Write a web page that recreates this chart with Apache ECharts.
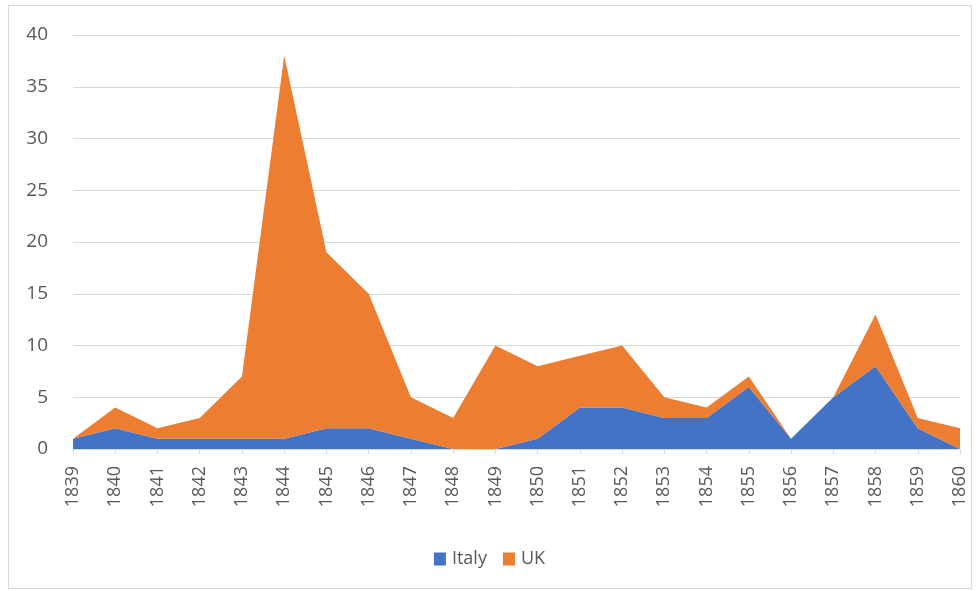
<!DOCTYPE html>
<html><head><meta charset="utf-8">
<script src="https://cdn.jsdelivr.net/npm/echarts@6/dist/echarts.min.js"></script>
<style>html,body{margin:0;padding:0;background:#fff}#c{width:979px;height:591px}
#frame{position:absolute;left:8px;top:5px;width:964px;height:584px;border:1px solid #d9d9d9;box-sizing:border-box;pointer-events:none}</style>
</head><body><div id="c"></div><div id="frame"></div>
<script>
const years = ['1839','1840','1841','1842','1843','1844','1845','1846','1847','1848','1849','1850','1851','1852','1853','1854','1855','1856','1857','1858','1859','1860'];
const italy = [1,2,1,1,1,1,2,2,1,0,0,1,4,4,3,3,6,1,5,8,2,0];
const uk    = [0,2,1,2,6,37,17,13,4,3,10,7,5,6,2,1,1,0,0,5,1,2];
const chart = echarts.init(document.getElementById('c'));
const font = '"Open Sans", "DejaVu Sans", sans-serif';
chart.setOption({
  animation:false,
  textStyle:{fontFamily:font},
  grid:{left:73,right:19,top:35,bottom:142},
  legend:{top:545,left:'center',itemWidth:12,itemHeight:13,itemGap:16,icon:'rect',
    textStyle:{color:'#595959',fontSize:18,fontFamily:font,padding:[0,0,0,1]},data:['Italy','UK']},
  xAxis:{type:'category',data:years,boundaryGap:false,
    axisLine:{lineStyle:{color:'#d9d9d9'}},
    axisTick:{show:true,alignWithLabel:true,length:5,lineStyle:{color:'#d9d9d9'}},
    axisLabel:{rotate:90,color:'#595959',fontSize:18,margin:17,interval:0}},
  yAxis:{type:'value',min:0,max:40,interval:5,
    axisLine:{show:false},axisTick:{show:false},
    axisLabel:{color:'#595959',fontSize:19,margin:25},
    splitLine:{lineStyle:{color:'#d9d9d9'}}},
  series:[
    {name:'Italy',type:'line',stack:'t',data:italy,symbol:'none',
     lineStyle:{width:0},areaStyle:{color:'#4472C4',opacity:1},itemStyle:{color:'#4472C4'}},
    {name:'UK',type:'line',stack:'t',data:uk,symbol:'none',
     lineStyle:{width:0},areaStyle:{color:'#ED7D31',opacity:1},itemStyle:{color:'#ED7D31'}}
  ]
});
</script></body></html>
